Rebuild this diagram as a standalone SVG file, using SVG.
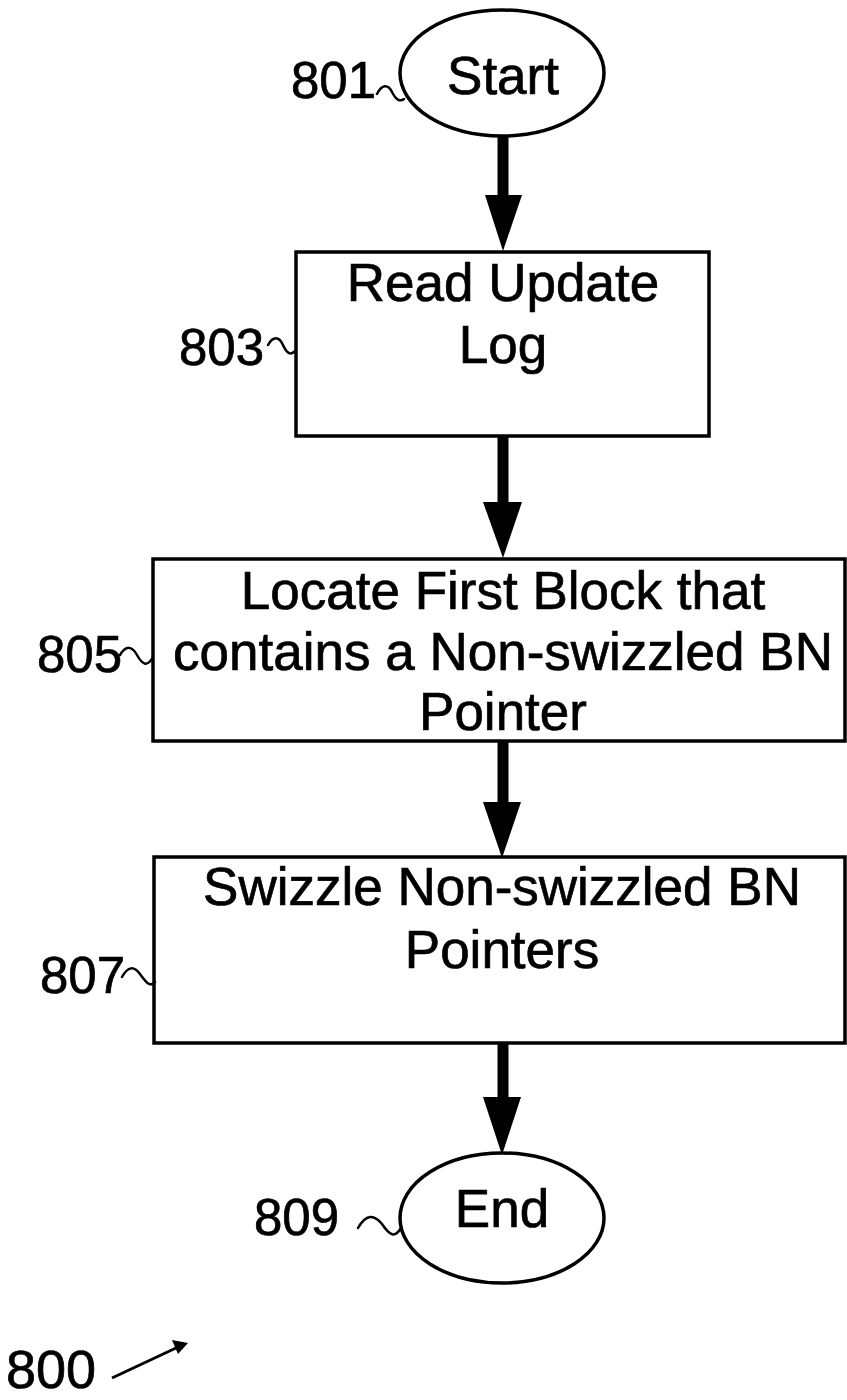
<svg xmlns="http://www.w3.org/2000/svg" width="847" height="1400" viewBox="0 0 847 1400">
<style>
.box{fill:#fff;stroke:#000;stroke-width:3.5}
.term{fill:#fff;stroke:#000;stroke-width:3.5}
.t{font-family:"Liberation Sans",Arial,sans-serif;font-size:53px;fill:#000;stroke:#000;stroke-width:0.7;text-anchor:middle}
.lbl{font-family:"Liberation Sans",Arial,sans-serif;font-size:51px;fill:#000;stroke:#000;stroke-width:0.7}
.sq{fill:none;stroke:#000;stroke-width:2.5;stroke-linecap:round}
.shaft{stroke:#000;stroke-width:11;fill:none}
.head{fill:#000;stroke:none}
</style>
<rect width="847" height="1400" fill="#fff"/>
<g id="connectors">
  <line class="shaft" x1="503" y1="137" x2="503" y2="200"/>
  <polygon class="head" points="485,195 522,195 503,251"/>
  <line class="shaft" x1="503" y1="437" x2="503" y2="506"/>
  <polygon class="head" points="483,502 522,502 503,558"/>
  <line class="shaft" x1="503" y1="742" x2="503" y2="806"/>
  <polygon class="head" points="483,802 521,802 502,858"/>
  <line class="shaft" x1="503" y1="1043" x2="503" y2="1101"/>
  <polygon class="head" points="483,1097 521,1097 502,1155"/>
</g>
<g id="n801">
  <ellipse class="term" cx="502" cy="73" rx="102" ry="63"/>
  <text class="t" x="503" y="94">Start</text>
  <text class="lbl" x="291" y="98">801</text>
  <path class="sq" d="M377,94 C382,84 388,84 392,92 C396,100 400,102 404,99"/>
</g>
<g id="n803">
  <rect class="box" x="296" y="252" width="413" height="184"/>
  <text class="t" x="503" y="301">Read Update</text>
  <text class="t" x="503" y="363">Log</text>
  <text class="lbl" x="179" y="365">803</text>
  <path class="sq" d="M268,345 C273,336 279,336 283,345 C287,354 291,356 296,350"/>
</g>
<g id="n805">
  <rect class="box" x="153" y="559" width="692" height="182"/>
  <text class="t" x="503" y="609">Locate First Block that</text>
  <text class="t" x="503" y="670">contains a Non-swizzled BN</text>
  <text class="t" x="503" y="730">Pointer</text>
  <text class="lbl" x="37" y="672">805</text>
  <path class="sq" d="M120,655 C126,645 132,646 137,655 C142,664 147,668 153,657"/>
</g>
<g id="n807">
  <rect class="box" x="154" y="857" width="691" height="186"/>
  <text class="t" x="502" y="905">Swizzle Non-swizzled BN</text>
  <text class="t" x="502" y="968">Pointers</text>
  <text class="lbl" x="40" y="993">807</text>
  <path class="sq" d="M122,977 C128,966 134,966 140,974 C146,982 150,988 155,982"/>
</g>
<g id="n809">
  <ellipse class="term" cx="502" cy="1218" rx="102" ry="65"/>
  <text class="t" x="502" y="1227">End</text>
  <text class="lbl" x="254" y="1235">809</text>
  <path class="sq" d="M358,1228 C366,1214 374,1214 382,1224 C390,1236 395,1238 401,1228"/>
</g>
<g id="n800">
  <text class="lbl" x="6" y="1388" style="font-size:54px">800</text>
  <line x1="112" y1="1378" x2="176" y2="1348" stroke="#000" stroke-width="3"/>
  <polygon class="head" points="188,1343 172,1340 178,1354"/>
</g>
</svg>
